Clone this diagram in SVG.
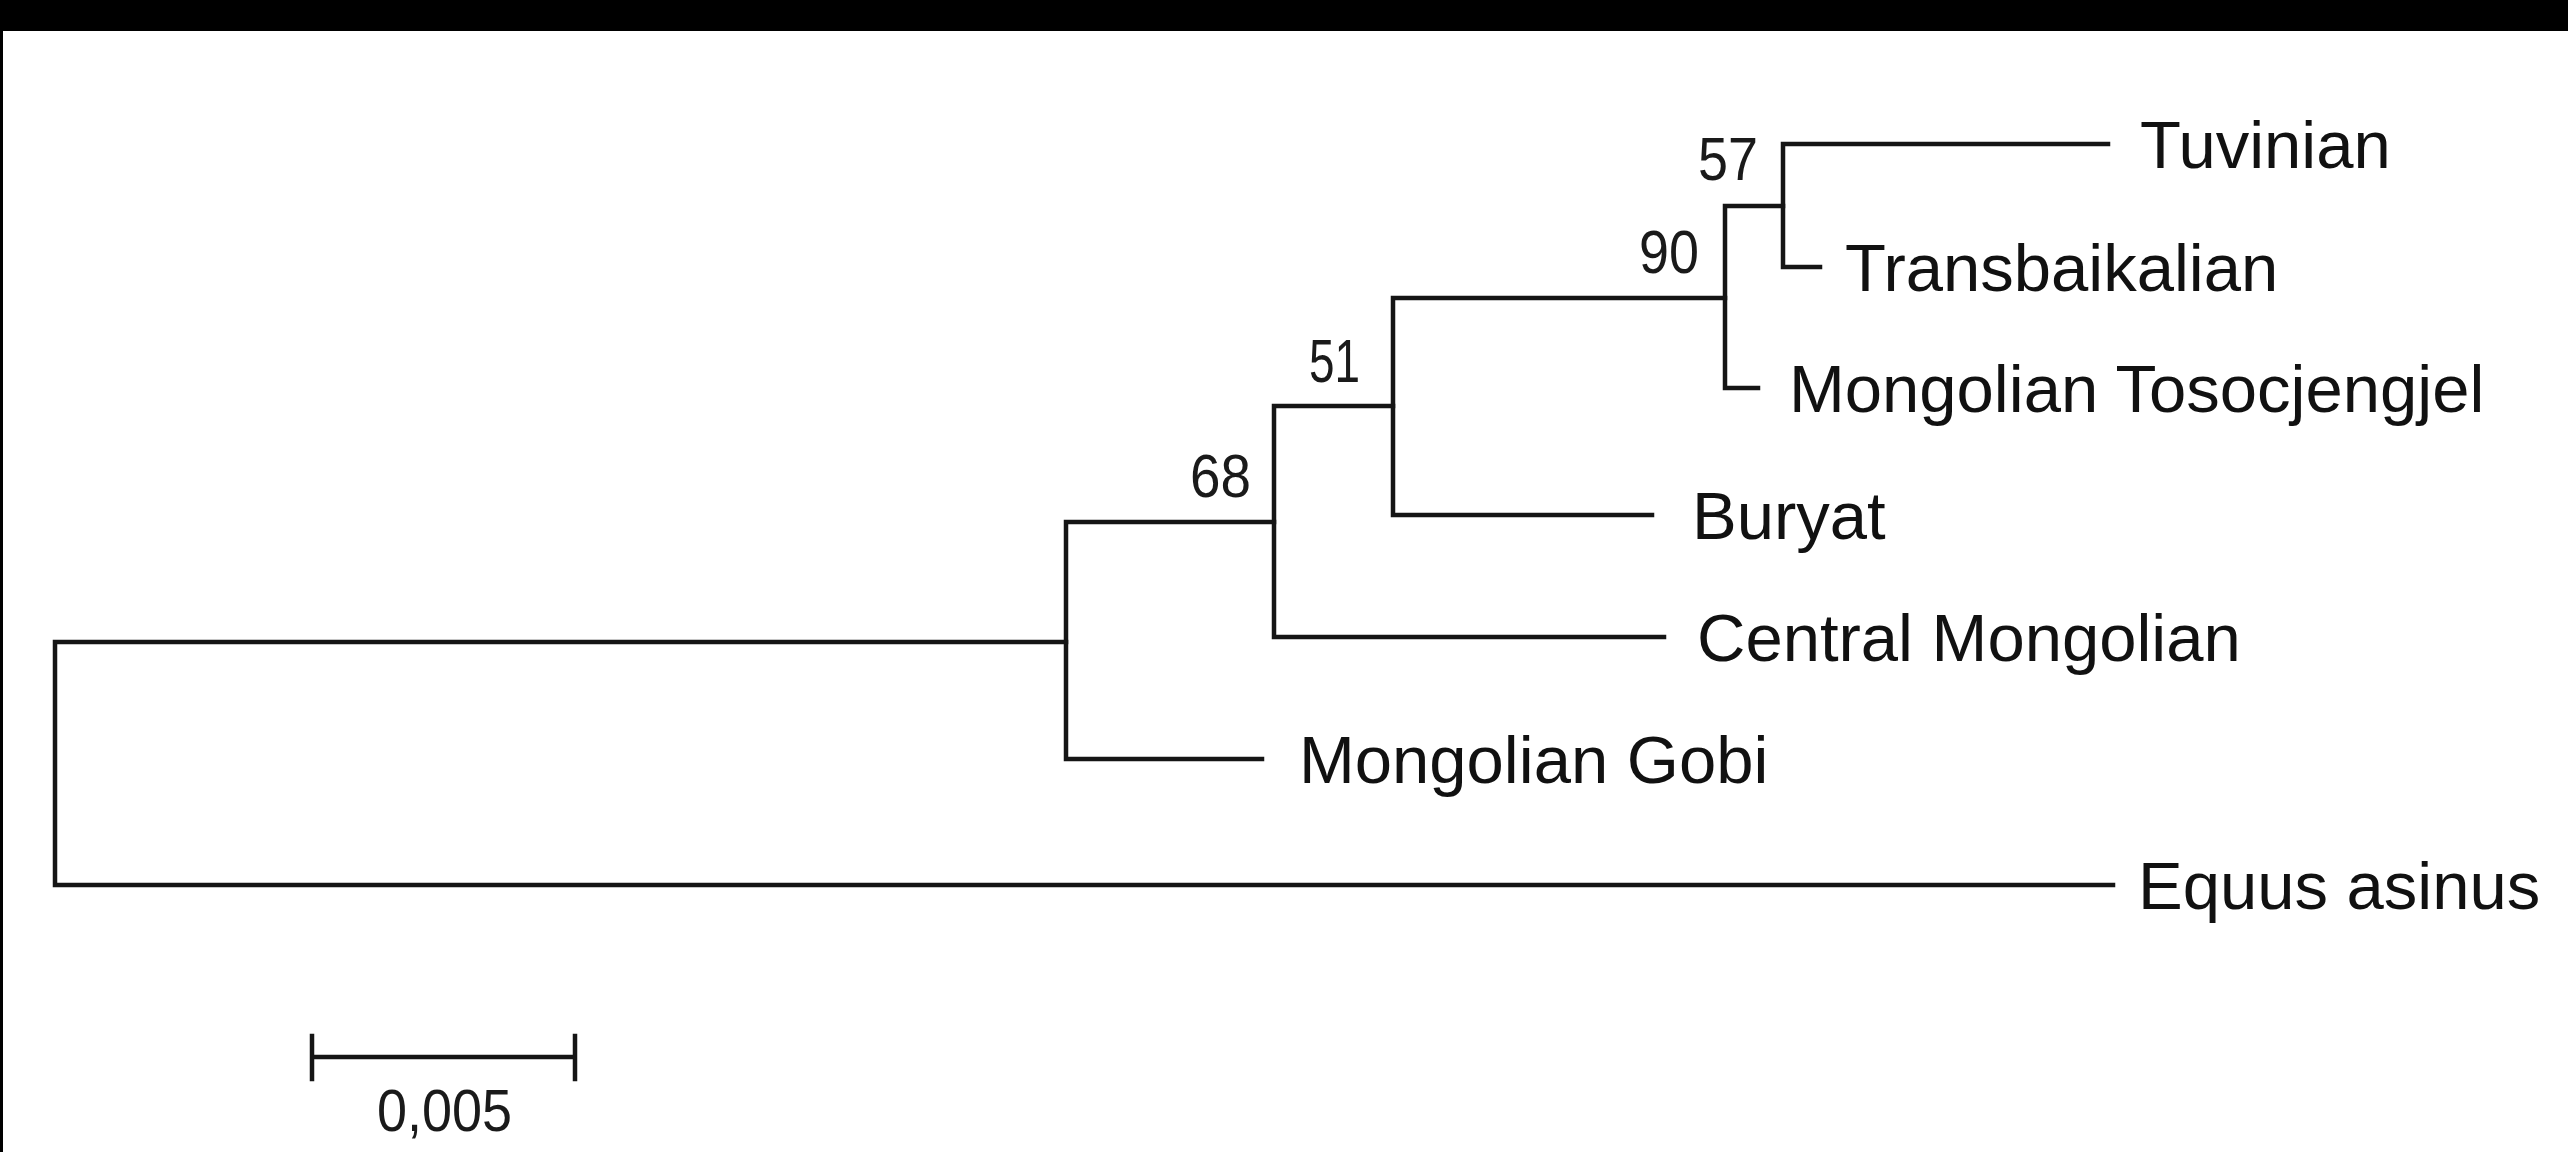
<svg xmlns="http://www.w3.org/2000/svg" width="2568" height="1152" viewBox="0 0 2568 1152">
  <style>
    .branch { fill: none; stroke: #151515; stroke-width: 4.5; stroke-linecap: square; stroke-linejoin: miter; }
    .taxon { font-family: "Liberation Sans", Arial, sans-serif; font-size: 67px; fill: #111; }
    .boot { font-family: "Liberation Sans", Arial, sans-serif; font-size: 61px; fill: #1a1a1a; text-anchor: end; }
    .scale-label { font-family: "Liberation Sans", Arial, sans-serif; font-size: 60px; fill: #1a1a1a; }
  </style>

  <!-- page background and dark frame edges -->
  <rect x="0" y="0" width="2568" height="1152" fill="#ffffff"/>
  <rect x="0" y="0" width="2568" height="31" fill="#000000"/>
  <rect x="0" y="0" width="3" height="1152" fill="#000000"/>

  <!-- tree branches (rectangular cladogram) -->
  <g id="connectors">
    <!-- root split -->
    <path class="branch" d="M1066,642 H55 V885 H2113"/>
    <!-- ingroup node -->
    <path class="branch" d="M1274,522 H1066 V759 H1262"/>
    <!-- node 68 -->
    <path class="branch" d="M1393,406 H1274 V637 H1664"/>
    <!-- node 51 -->
    <path class="branch" d="M1725,298 H1393 V515 H1652"/>
    <!-- node 90 -->
    <path class="branch" d="M1783,206 H1725 V388 H1758"/>
    <!-- node 57 -->
    <path class="branch" d="M2108,144 H1783 V267 H1820"/>
  </g>

  <!-- internal nodes with bootstrap support -->
  <g id="node-57"><text class="boot" x="1758" y="180" textLength="60" lengthAdjust="spacingAndGlyphs">57</text></g>
  <g id="node-90"><text class="boot" x="1699" y="273" textLength="60" lengthAdjust="spacingAndGlyphs">90</text></g>
  <g id="node-51"><text class="boot" x="1360" y="382" textLength="51" lengthAdjust="spacingAndGlyphs">51</text></g>
  <g id="node-68"><text class="boot" x="1251" y="497" textLength="61" lengthAdjust="spacingAndGlyphs">68</text></g>

  <!-- terminal taxa -->
  <g id="taxon-tuvinian"><text class="taxon" x="2140" y="168">Tuvinian</text></g>
  <g id="taxon-transbaikalian"><text class="taxon" x="1845" y="291">Transbaikalian</text></g>
  <g id="taxon-mongolian-tosocjengjel"><text class="taxon" x="1789" y="412">Mongolian Tosocjengjel</text></g>
  <g id="taxon-buryat"><text class="taxon" x="1692" y="539">Buryat</text></g>
  <g id="taxon-central-mongolian"><text class="taxon" x="1697" y="661">Central Mongolian</text></g>
  <g id="taxon-mongolian-gobi"><text class="taxon" x="1299" y="783">Mongolian Gobi</text></g>
  <g id="taxon-equus-asinus"><text class="taxon" x="2138" y="909">Equus asinus</text></g>

  <!-- distance scale bar -->
  <g id="scale-bar">
    <path class="branch" d="M312,1057 H575 M312,1036 V1079 M575,1036 V1079" stroke-linecap="butt"/>
    <text class="scale-label" x="377" y="1131" textLength="135" lengthAdjust="spacingAndGlyphs">0,005</text>
  </g>
</svg>
